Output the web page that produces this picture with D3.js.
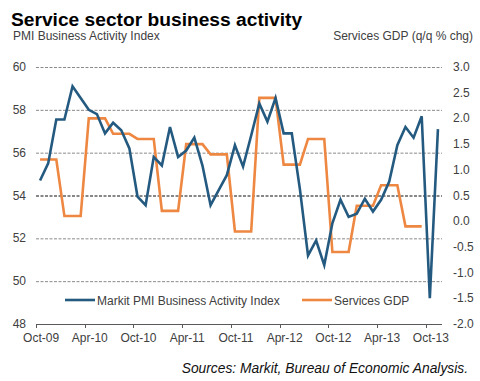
<!DOCTYPE html>
<html>
<head>
<meta charset="utf-8">
<script src="https://cdn.jsdelivr.net/npm/d3@7"></script>
<style>
  html, body { margin: 0; padding: 0; background: #ffffff; }
  svg { display: block; font-family: "Liberation Sans", Arial, sans-serif; }
</style>
</head>
<body>
<script>
const months = ["Oct-09","Nov-09","Dec-09","Jan-10","Feb-10","Mar-10","Apr-10","May-10","Jun-10","Jul-10","Aug-10","Sep-10",
  "Oct-10","Nov-10","Dec-10","Jan-11","Feb-11","Mar-11","Apr-11","May-11","Jun-11","Jul-11","Aug-11","Sep-11",
  "Oct-11","Nov-11","Dec-11","Jan-12","Feb-12","Mar-12","Apr-12","May-12","Jun-12","Jul-12","Aug-12","Sep-12",
  "Oct-12","Nov-12","Dec-12","Jan-13","Feb-13","Mar-13","Apr-13","May-13","Jun-13","Jul-13","Aug-13","Sep-13",
  "Oct-13","Nov-13"];

const pmi = [54.7, 55.5, 57.55, 57.55, 59.1, 58.55, 58.0, 57.8, 56.9, 57.4, 57.05, 56.2,
  53.95, 53.55, 55.8, 55.4, 57.2, 55.8, 56.1, 56.7, 55.4, 53.55, 54.25, 54.95,
  56.35, 55.35, 56.8, 58.3, 57.45, 58.55, 56.9, 56.9, 54.3, 51.2, 51.9, 50.75,
  52.7, 53.8, 53.0, 53.15, 53.85, 53.25, 53.8, 54.65, 56.35, 57.2, 56.7, 57.7,
  49.2, 57.1];

const gdp = [1.2, 1.2, 1.2, 0.1, 0.1, 0.1, 2.0, 2.0, 2.0, 1.7, 1.7, 1.7,
  1.6, 1.6, 1.6, 0.2, 0.2, 0.2, 1.5, 1.5, 1.5, 1.3, 1.3, 1.3,
  -0.2, -0.2, -0.2, 2.4, 2.4, 2.4, 1.1, 1.1, 1.1, 1.6, 1.6, 1.6,
  -0.6, -0.6, -0.6, 0.3, 0.3, 0.3, 0.7, 0.7, 0.7, -0.1, -0.1, -0.1,
  null, null];

const xTickLabels = ["Oct-09","Apr-10","Oct-10","Apr-11","Oct-11","Apr-12","Oct-12","Apr-13","Oct-13"];
const leftTicks = [48, 50, 52, 54, 56, 58, 60];
const rightTicks = [3.0, 2.5, 2.0, 1.5, 1.0, 0.5, 0.0, -0.5, -1.0, -1.5, -2.0];

const seriesNames = ["Markit PMI Business Activity Index", "Services GDP"];
const colors = { pmi: "#245a80", gdp: "#ee8741" };
const textColor = "#404040";

const W = 480, H = 381;
const svg = d3.select("body").append("svg").attr("width", W).attr("height", H);

const x = d3.scaleBand().domain(months).range([36, 442]).padding(0);
const bw = x.bandwidth();
const yL = d3.scaleLinear().domain([48, 60]).range([324, 67]);
const yR = d3.scaleLinear().domain([-2, 3]).range([324, 67]);

// Titles
svg.append("text").attr("x", 11).attr("y", 25.5)
  .attr("font-size", "19.2px").attr("font-weight", "bold").attr("fill", "#000")
  .text("Service sector business activity");
svg.append("text").attr("x", 13).attr("y", 40)
  .attr("font-size", "12px").attr("fill", textColor)
  .text("PMI Business Activity Index");
svg.append("text").attr("x", 473).attr("y", 40).attr("text-anchor", "end")
  .attr("font-size", "12px").attr("fill", textColor)
  .text("Services GDP (q/q % chg)");

// Gridlines
svg.append("g").selectAll("line")
  .data(leftTicks.filter(v => v !== 48))
  .join("line")
  .attr("x1", 36).attr("x2", 442)
  .attr("y1", d => yL(d) + 0.5).attr("y2", d => yL(d) + 0.5)
  .attr("stroke", d => d === 54 ? "#111" : "#8a8a8a")
  .attr("stroke-width", 1)
  .attr("stroke-dasharray", "3,1.5");

// Left tick labels
svg.append("g").selectAll("text")
  .data(leftTicks).join("text")
  .attr("x", 26).attr("y", d => yL(d) + 4)
  .attr("text-anchor", "end").attr("font-size", "12px").attr("fill", textColor)
  .text(d => d);

// Right tick labels
svg.append("g").selectAll("text")
  .data(rightTicks).join("text")
  .attr("x", 453).attr("y", d => yR(d) + 4)
  .attr("text-anchor", "start").attr("font-size", "12px").attr("fill", textColor)
  .text(d => d.toFixed(1));

// X axis
const xAxis = svg.append("g");
xAxis.append("line").attr("x1", 36).attr("x2", 442).attr("y1", 324.5).attr("y2", 324.5)
  .attr("stroke", "#595959").attr("stroke-width", 1);
xAxis.selectAll("line.tick").data(xTickLabels).join("line").attr("class", "tick")
  .attr("x1", d => Math.round(x(d)) + 0.5).attr("x2", d => Math.round(x(d)) + 0.5)
  .attr("y1", 324).attr("y2", 328)
  .attr("stroke", "#595959").attr("stroke-width", 1);
xAxis.selectAll("text").data(xTickLabels).join("text")
  .attr("x", d => x(d) + bw / 2 + 1).attr("y", 342)
  .attr("text-anchor", "middle").attr("font-size", "12px").attr("fill", textColor)
  .text(d => d);

// Lines
const line = (yScale) => d3.line()
  .defined(d => d != null)
  .x((d, i) => x(months[i]) + bw / 2)
  .y(d => yScale(d));

svg.append("path").datum(gdp)
  .attr("fill", "none").attr("stroke", colors.gdp).attr("stroke-width", 2.6)
  .attr("stroke-linejoin", "miter").attr("d", line(yR));

svg.append("path").datum(pmi)
  .attr("fill", "none").attr("stroke", colors.pmi).attr("stroke-width", 2.6)
  .attr("stroke-linejoin", "miter").attr("d", line(yL));

// Legend
const legend = svg.append("g");
const legItems = [
  { name: seriesNames[0], color: colors.pmi, x: 65 },
  { name: seriesNames[1], color: colors.gdp, x: 302 }
];
legItems.forEach(it => {
  legend.append("line").attr("x1", it.x).attr("x2", it.x + 30).attr("y1", 300).attr("y2", 300)
    .attr("stroke", it.color).attr("stroke-width", 2.6);
  legend.append("text").attr("x", it.x + 32).attr("y", 304.5)
    .attr("font-size", "12px").attr("fill", textColor).text(it.name);
});

// Source
svg.append("text").attr("x", 468).attr("y", 373).attr("text-anchor", "end")
  .attr("font-size", "13.8px").attr("font-style", "italic").attr("fill", "#111")
  .text("Sources: Markit, Bureau of Economic Analysis.");
</script>
</body>
</html>
